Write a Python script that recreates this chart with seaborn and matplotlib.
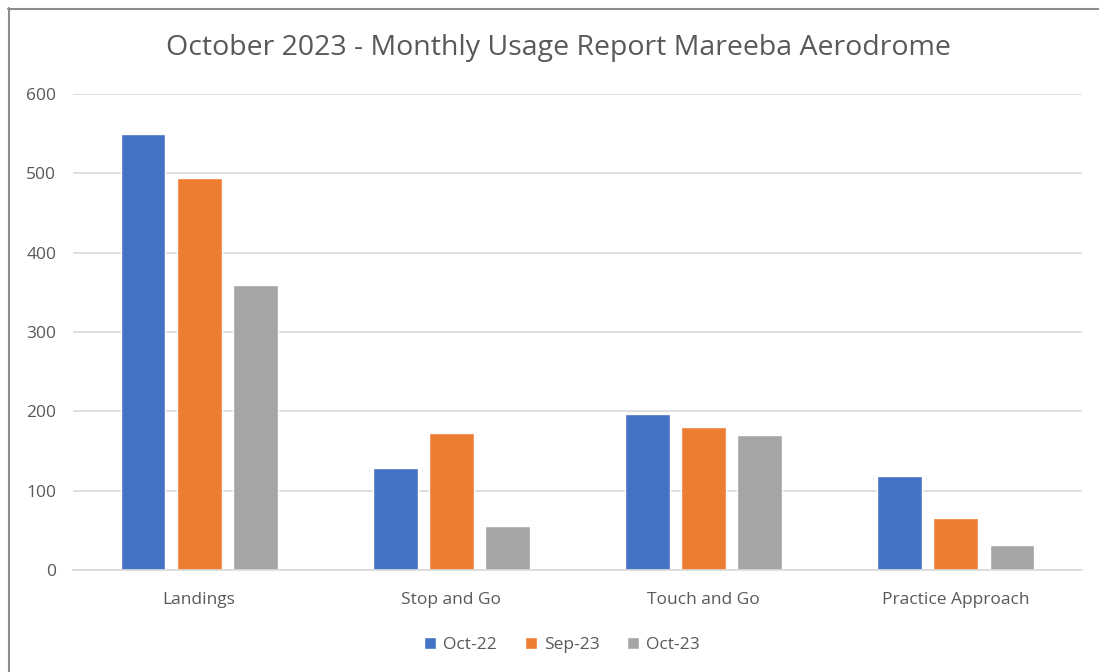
import matplotlib
matplotlib.use("Agg")
import matplotlib.pyplot as plt
import seaborn as sns
import pandas as pd
from matplotlib.lines import Line2D

categories = ["Landings", "Stop and Go", "Touch and Go", "Practice Approach"]
series_names = ["Oct-22", "Sep-23", "Oct-23"]
oct22 = [549, 128, 197, 118]
sep23 = [494, 173, 180, 65]
oct23 = [359, 56, 170, 31]
colors = ["#4472C4", "#ED7D31", "#A5A5A5"]

rows = []
for name, vals in zip(series_names, [oct22, sep23, oct23]):
    for c, v in zip(categories, vals):
        rows.append({"Category": c, "Series": name, "Value": v})
df = pd.DataFrame(rows)

sns.set_theme(style="white")
plt.rcParams["font.family"] = ["Open Sans", "DejaVu Sans"]
text_color = "#595959"

fig = plt.figure(figsize=(10.99, 6.72), dpi=100)
ax = fig.add_axes([73 / 1099, 102 / 672, (1082 - 73) / 1099, (570 - 94) / 672])

sns.barplot(data=df, x="Category", y="Value", hue="Series", order=categories,
            hue_order=series_names, palette=colors, width=0.667, gap=0.2,
            saturation=1, ax=ax, legend=True)

ax.set_ylim(0, 600)
ax.set_xlim(-0.5, 3.5)
ax.set_yticks(range(0, 601, 100))
ax.yaxis.grid(True, color="#d9d9d9", linewidth=1.2)
ax.set_axisbelow(True)
for s in ["top", "right", "left"]:
    ax.spines[s].set_visible(False)
ax.spines["bottom"].set_color("#d9d9d9")
ax.spines["bottom"].set_linewidth(1.2)
ax.set_xlabel("")
ax.set_ylabel("")
ax.tick_params(axis="both", length=0, colors=text_color, labelsize=12.5)
ax.tick_params(axis="y", pad=12)
ax.tick_params(axis="x", pad=16)

handles, labels = ax.get_legend_handles_labels()
ax.legend_.remove()
fig.legend(handles, labels, loc="center", bbox_to_anchor=(562 / 1099, 1 - 645 / 672),
           ncol=3, frameon=False, fontsize=12.5, labelcolor=text_color,
           handlelength=0.7, handleheight=0.7, handletextpad=0.4, columnspacing=1.6)

fig.text(558 / 1099, 1 - 48 / 672, "October 2023 - Monthly Usage Report Mareeba Aerodrome",
         ha="center", va="center", fontsize=20.5, color=text_color)

# chart border (top and left edges)
fig.add_artist(Line2D([8 / 1099, 1.0], [1 - 8.5 / 672, 1 - 8.5 / 672], transform=fig.transFigure,
                      color="#8c8c8c", linewidth=1.5))
fig.add_artist(Line2D([8.5 / 1099, 8.5 / 1099], [0, 1 - 8 / 672], transform=fig.transFigure,
                      color="#8c8c8c", linewidth=1.5))

fig.savefig("out.png", dpi=100, facecolor="white")
